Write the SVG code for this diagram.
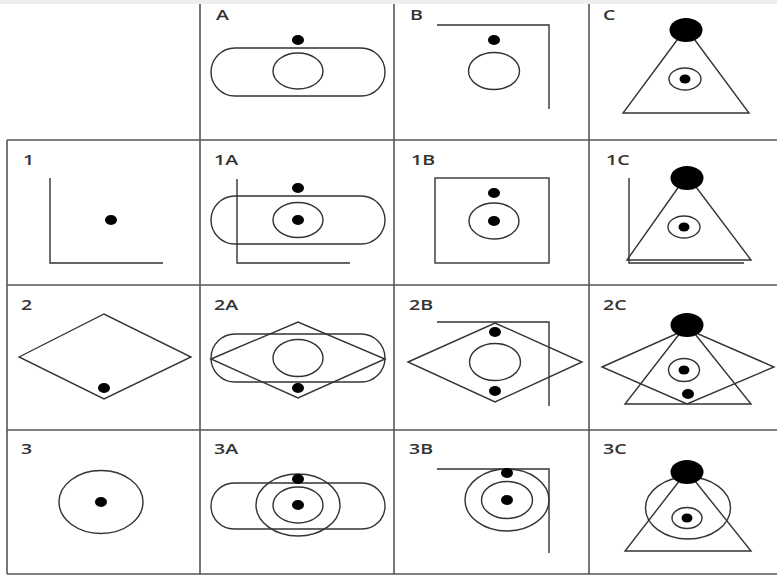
<svg xmlns="http://www.w3.org/2000/svg" width="777" height="576" viewBox="0 0 777 576">
<style>
.grid{stroke:#555;stroke-width:1.6;fill:none}
.s{stroke:#333;stroke-width:1.4;fill:none}
.d{fill:#000}
.lbl{font-family:"Open Sans","Noto Sans",sans-serif;font-size:13.5px;font-weight:600;fill:#333}
</style>
<rect x="0" y="0" width="777" height="576" fill="#fff"/>
<rect x="0" y="0" width="777" height="4" fill="#eee"/>
<g id="grid" class="grid">
<line x1="200" y1="4" x2="200" y2="574"/>
<line x1="394" y1="4" x2="394" y2="574"/>
<line x1="589" y1="4" x2="589" y2="574"/>
<line x1="7" y1="140" x2="7" y2="574"/>
<line x1="7" y1="140" x2="777" y2="140"/>
<line x1="7" y1="285" x2="777" y2="285"/>
<line x1="7" y1="430" x2="777" y2="430"/>
<line x1="7" y1="574" x2="777" y2="574"/>
</g>
<g id="cellA">
<text class="lbl" transform="translate(216,19.5) scale(1.45,1)">A</text>
<rect class="s" x="211" y="48" width="174" height="48" rx="24"/>
<ellipse class="s" cx="298" cy="71" rx="25" ry="18"/>
<ellipse class="d" cx="298" cy="40" rx="6" ry="5"/>
</g>
<g id="cellB">
<text class="lbl" transform="translate(410,19.5) scale(1.45,1)">B</text>
<polyline class="s" points="437,25 549,25 549,109"/>
<ellipse class="s" cx="494" cy="71" rx="25.5" ry="18.5"/>
<ellipse class="d" cx="494" cy="40" rx="6" ry="5"/>
</g>
<g id="cellC">
<text class="lbl" transform="translate(603,19.5) scale(1.45,1)">C</text>
<polygon class="s" points="686,28 623,113 749,113"/>
<ellipse class="s" cx="685" cy="79" rx="16" ry="11"/>
<ellipse class="d" cx="685" cy="79" rx="5.5" ry="4.5"/>
<ellipse class="d" cx="686" cy="30" rx="16.5" ry="12"/>
</g>
<g id="cell1">
<text class="lbl" transform="translate(23,164.5) scale(1.45,1)">1</text>
<polyline class="s" points="50,178 50,263 163,263"/>
<ellipse class="d" cx="111" cy="220" rx="6" ry="5"/>
</g>
<g id="cell1A">
<text class="lbl" transform="translate(214,164.5) scale(1.45,1)">1A</text>
<polyline class="s" points="237,179 237,263 350,263"/>
<rect class="s" x="211" y="196" width="174" height="48" rx="24"/>
<ellipse class="s" cx="298" cy="220" rx="25" ry="17.5"/>
<ellipse class="d" cx="298" cy="188" rx="6" ry="5"/>
<ellipse class="d" cx="298" cy="220" rx="6" ry="5"/>
</g>
<g id="cell1B">
<text class="lbl" transform="translate(411,164.5) scale(1.45,1)">1B</text>
<rect class="s" x="435" y="178" width="114" height="85"/>
<ellipse class="s" cx="494" cy="221" rx="25" ry="18"/>
<ellipse class="d" cx="494" cy="193" rx="6" ry="5"/>
<ellipse class="d" cx="494" cy="221" rx="6" ry="5"/>
</g>
<g id="cell1C">
<text class="lbl" transform="translate(606,164.5) scale(1.45,1)">1C</text>
<polyline class="s" points="629,178 629,263 744,263"/>
<polygon class="s" points="687,175 627,260 751,260"/>
<ellipse class="s" cx="684" cy="227" rx="16" ry="11"/>
<ellipse class="d" cx="684" cy="227" rx="5.5" ry="4.5"/>
<ellipse class="d" cx="687" cy="178" rx="16.5" ry="12"/>
</g>
<g id="cell2">
<text class="lbl" transform="translate(21,309.5) scale(1.45,1)">2</text>
<polygon class="s" points="19,357 104,314 191,357 104,399"/>
<ellipse class="d" cx="104" cy="388" rx="6" ry="5"/>
</g>
<g id="cell2A">
<text class="lbl" transform="translate(214,309.5) scale(1.45,1)">2A</text>
<rect class="s" x="211" y="334" width="174" height="48" rx="24"/>
<polygon class="s" points="211,359 298,322 385,359 298,398"/>
<ellipse class="s" cx="298" cy="358" rx="25" ry="18.5"/>
<ellipse class="d" cx="298" cy="388" rx="6" ry="5"/>
</g>
<g id="cell2B">
<text class="lbl" transform="translate(409,309.5) scale(1.45,1)">2B</text>
<polyline class="s" points="437,322 549,322 549,406"/>
<polygon class="s" points="408,362 495,323 582,362 495,402"/>
<ellipse class="s" cx="495" cy="362" rx="25.5" ry="18.5"/>
<ellipse class="d" cx="495" cy="332" rx="6" ry="5"/>
<ellipse class="d" cx="495" cy="391" rx="6" ry="5"/>
</g>
<g id="cell2C">
<text class="lbl" transform="translate(603,309.5) scale(1.45,1)">2C</text>
<polygon class="s" points="687,324 625,404 751,404"/>
<polygon class="s" points="602,367 687,329 774,367 687,404"/>
<ellipse class="s" cx="684" cy="370" rx="15.5" ry="11.5"/>
<ellipse class="d" cx="684" cy="370" rx="5.5" ry="4.5"/>
<ellipse class="d" cx="688" cy="394" rx="6" ry="5"/>
<ellipse class="d" cx="687" cy="325" rx="16.5" ry="12"/>
</g>
<g id="cell3">
<text class="lbl" transform="translate(21,453.5) scale(1.45,1)">3</text>
<ellipse class="s" cx="101" cy="502" rx="42" ry="31.5"/>
<ellipse class="d" cx="101" cy="502" rx="6" ry="5"/>
</g>
<g id="cell3A">
<text class="lbl" transform="translate(214,453.5) scale(1.45,1)">3A</text>
<rect class="s" x="211" y="483" width="174" height="46" rx="23"/>
<ellipse class="s" cx="298" cy="505" rx="42" ry="31"/>
<ellipse class="s" cx="298" cy="505" rx="25" ry="18"/>
<ellipse class="d" cx="298" cy="479" rx="6" ry="5"/>
<ellipse class="d" cx="298" cy="505" rx="6" ry="5"/>
</g>
<g id="cell3B">
<text class="lbl" transform="translate(409,453.5) scale(1.45,1)">3B</text>
<polyline class="s" points="437,469 549,469 549,553"/>
<ellipse class="s" cx="507" cy="500" rx="42" ry="31"/>
<ellipse class="s" cx="507" cy="500" rx="25.5" ry="18.5"/>
<ellipse class="d" cx="507" cy="473" rx="6" ry="5"/>
<ellipse class="d" cx="507" cy="500" rx="6" ry="5"/>
</g>
<g id="cell3C">
<text class="lbl" transform="translate(603,453.5) scale(1.45,1)">3C</text>
<polygon class="s" points="687,471 625,551 751,551"/>
<ellipse class="s" cx="688" cy="508" rx="42.5" ry="31"/>
<ellipse class="s" cx="687" cy="518" rx="15" ry="10.5"/>
<ellipse class="d" cx="687" cy="518" rx="5.5" ry="4.5"/>
<ellipse class="d" cx="687" cy="472" rx="16.5" ry="12"/>
</g>
</svg>
